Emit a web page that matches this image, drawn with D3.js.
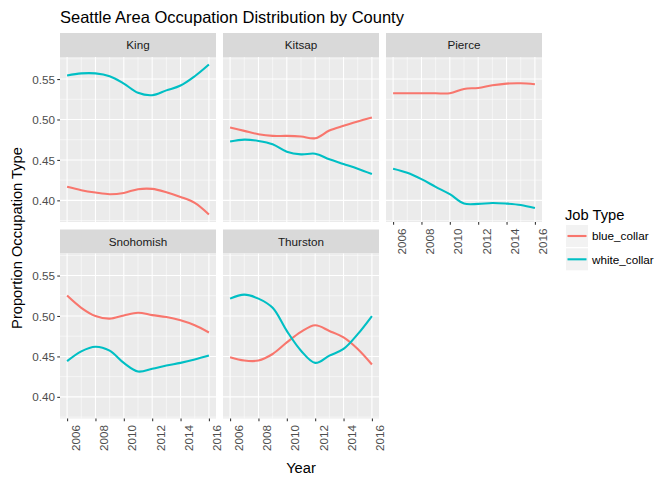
<!DOCTYPE html>
<html>
<head>
<meta charset="utf-8">
<script src="https://cdn.jsdelivr.net/npm/d3@7"></script>
<style>
  html, body { margin: 0; padding: 0; background: #ffffff; }
  svg { display: block; font-family: "Liberation Sans", Arial, sans-serif; }
</style>
</head>
<body>
<svg id="chart" width="672" height="480"></svg>
<script>
// ---------- data ----------
const counties = ["King", "Kitsap", "Pierce", "Snohomish", "Thurston"];
const years = [2006, 2007, 2008, 2009, 2010, 2011, 2012, 2013, 2014, 2015, 2016];
const jobTypes = ["blue_collar", "white_collar"];

const kingBlue       = [0.4167, 0.4126, 0.4097, 0.4076, 0.4092, 0.4138, 0.4142, 0.4101, 0.4042, 0.3968, 0.3825];
const kingWhite      = [0.5544, 0.5570, 0.5570, 0.5535, 0.5444, 0.5330, 0.5300, 0.5360, 0.5420, 0.5535, 0.5680];
const kitsapBlue     = [0.4900, 0.4859, 0.4818, 0.4797, 0.4797, 0.4789, 0.4768, 0.4863, 0.4922, 0.4975, 0.5025];
const kitsapWhite    = [0.4727, 0.4751, 0.4735, 0.4694, 0.4602, 0.4569, 0.4577, 0.4507, 0.4449, 0.4391, 0.4325];
const pierceBlue     = [0.5324, 0.5324, 0.5324, 0.5324, 0.5324, 0.5378, 0.5390, 0.5423, 0.5444, 0.5448, 0.5436];
const pierceWhite    = [0.4391, 0.4341, 0.4262, 0.4167, 0.4076, 0.3960, 0.3956, 0.3968, 0.3960, 0.3943, 0.3905];
const snohomishBlue  = [0.5252, 0.5101, 0.4999, 0.4967, 0.5007, 0.5040, 0.5011, 0.4987, 0.4946, 0.4885, 0.4796];
const snohomishWhite = [0.4441, 0.4563, 0.4620, 0.4571, 0.4420, 0.4314, 0.4347, 0.4388, 0.4420, 0.4461, 0.4510];
const thurstonBlue   = [0.4490, 0.4449, 0.4449, 0.4530, 0.4673, 0.4803, 0.4885, 0.4815, 0.4735, 0.4592, 0.4400];
const thurstonWhite  = [0.5215, 0.5264, 0.5215, 0.5101, 0.4815, 0.4571, 0.4420, 0.4510, 0.4592, 0.4775, 0.4999];

const xTickValues = [2006, 2008, 2010, 2012, 2014, 2016];
const xMinorValues = [2007, 2009, 2011, 2013, 2015];
const yTickValues = [0.40, 0.45, 0.50, 0.55];
const yMinorValues = [0.375, 0.425, 0.475, 0.525, 0.575];

const seriesByCounty = {
  King:      [kingBlue, kingWhite],
  Kitsap:    [kitsapBlue, kitsapWhite],
  Pierce:    [pierceBlue, pierceWhite],
  Snohomish: [snohomishBlue, snohomishWhite],
  Thurston:  [thurstonBlue, thurstonWhite]
};

// ---------- layout ----------
const svg = d3.select("#chart");
const colors = d3.scaleOrdinal().domain(jobTypes).range(["#F8766D", "#00BFC4"]);
const colX = [60, 223, 386];
const panelW = 156;
const stripTop = [33, 229.5];
const stripH = 24;
const panelH = 165;

const allVals = [].concat(...counties.map(c => seriesByCounty[c][0].concat(seriesByCounty[c][1])));
const [vmin, vmax] = d3.extent(allVals);
const pad = (vmax - vmin) * 0.05;

const x = d3.scaleLinear().domain([years[0] - 0.5, years[years.length - 1] + 0.5]).range([0, panelW]);
const y = d3.scaleLinear().domain([vmin - pad, vmax + pad]).range([panelH, 0]);

const line = d3.line()
  .x(d => x(d[0]))
  .y(d => y(d[1]))
  .curve(d3.curveCatmullRom.alpha(0.5));

// title
svg.append("text")
  .attr("x", 60).attr("y", 22.5)
  .attr("font-size", 16.5).attr("fill", "#000")
  .text("Seattle Area Occupation Distribution by County");

counties.forEach((county, i) => {
  const col = i % 3, row = Math.floor(i / 3);
  const px = colX[col];
  const sy = stripTop[row];
  const py = sy + stripH;

  // strip
  svg.append("rect").attr("x", px).attr("y", sy).attr("width", panelW).attr("height", stripH).attr("fill", "#D9D9D9");
  svg.append("text")
    .attr("x", px + panelW / 2).attr("y", sy + stripH / 2 + 4.3)
    .attr("text-anchor", "middle").attr("font-size", 11.7).attr("fill", "#1A1A1A")
    .text(county);

  const g = svg.append("g").attr("transform", `translate(${px},${py})`);
  g.append("rect").attr("width", panelW).attr("height", panelH).attr("fill", "#EBEBEB");

  // minor grid
  g.selectAll(".vmin").data(xMinorValues).enter().append("line")
    .attr("x1", d => x(d)).attr("x2", d => x(d)).attr("y1", 0).attr("y2", panelH)
    .attr("stroke", "#fff").attr("stroke-width", 0.53);
  g.selectAll(".hmin").data(yMinorValues.filter(v => v >= y.domain()[0] && v <= y.domain()[1])).enter().append("line")
    .attr("x1", 0).attr("x2", panelW).attr("y1", d => y(d)).attr("y2", d => y(d))
    .attr("stroke", "#fff").attr("stroke-width", 0.53);
  // major grid
  g.selectAll(".vmaj").data(xTickValues).enter().append("line")
    .attr("x1", d => x(d)).attr("x2", d => x(d)).attr("y1", 0).attr("y2", panelH)
    .attr("stroke", "#fff").attr("stroke-width", 1.07);
  g.selectAll(".hmaj").data(yTickValues).enter().append("line")
    .attr("x1", 0).attr("x2", panelW).attr("y1", d => y(d)).attr("y2", d => y(d))
    .attr("stroke", "#fff").attr("stroke-width", 1.07);

  // lines
  seriesByCounty[county].forEach((vals, k) => {
    g.append("path")
      .datum(years.map((yr, j) => [yr, vals[j]]))
      .attr("d", line)
      .attr("fill", "none")
      .attr("stroke", colors(jobTypes[k]))
      .attr("stroke-width", 2.1)
      .attr("stroke-linejoin", "round")
      .attr("stroke-linecap", "butt");
  });

  // y axis on left column
  if (col === 0) {
    const ya = g.append("g").call(d3.axisLeft(y).tickValues(yTickValues).tickSize(2.75).tickPadding(2.2).tickFormat(d3.format(".2f")));
    ya.select(".domain").remove();
    ya.selectAll(".tick line").attr("stroke", "#333333").attr("stroke-width", 1.07);
    ya.selectAll(".tick text").attr("fill", "#4D4D4D").attr("font-size", 11.7)
      .attr("font-family", "'Liberation Sans', Arial, sans-serif").attr("dy", "0.35em");
  }

  // x axis for bottom panel of each column
  const hasBelow = (i + 3) < counties.length;
  if (!hasBelow) {
    const xa = g.append("g").attr("transform", `translate(0,${panelH})`)
      .call(d3.axisBottom(x).tickValues(xTickValues).tickSize(2.75).tickFormat(d3.format("d")));
    xa.select(".domain").remove();
    xa.selectAll(".tick line").attr("stroke", "#333333").attr("stroke-width", 1.07);
    xa.selectAll(".tick text")
      .attr("fill", "#4D4D4D").attr("font-size", 11.7)
      .attr("font-family", "'Liberation Sans', Arial, sans-serif")
      .attr("text-anchor", "end")
      .attr("transform", "rotate(-90)")
      .attr("x", -6.5).attr("y", 0).attr("dy", "12px");
  }
});

// axis titles
svg.append("text")
  .attr("x", 301).attr("y", 473)
  .attr("text-anchor", "middle").attr("font-size", 14.7).attr("fill", "#000")
  .text("Year");
svg.append("text")
  .attr("transform", "translate(22,238) rotate(-90)")
  .attr("text-anchor", "middle").attr("font-size", 14.7).attr("fill", "#000")
  .text("Proportion Occupation Type");

// legend
const lg = svg.append("g").attr("transform", "translate(565,0)");
lg.append("text").attr("x", 0).attr("y", 219.5).attr("font-size", 14.7).attr("fill", "#000").text("Job Type");
jobTypes.forEach((t, k) => {
  const ky = 225 + k * 23.3;
  lg.append("rect").attr("x", 1).attr("y", ky).attr("width", 22).attr("height", 22).attr("fill", "#F2F2F2");
  lg.append("line").attr("x1", 2.5).attr("x2", 21.5).attr("y1", ky + 11).attr("y2", ky + 11)
    .attr("stroke", colors(t)).attr("stroke-width", 2.1);
  lg.append("text").attr("x", 27).attr("y", ky + 15.2).attr("font-size", 11.7).attr("fill", "#000").text(t);
});
</script>
</body>
</html>
